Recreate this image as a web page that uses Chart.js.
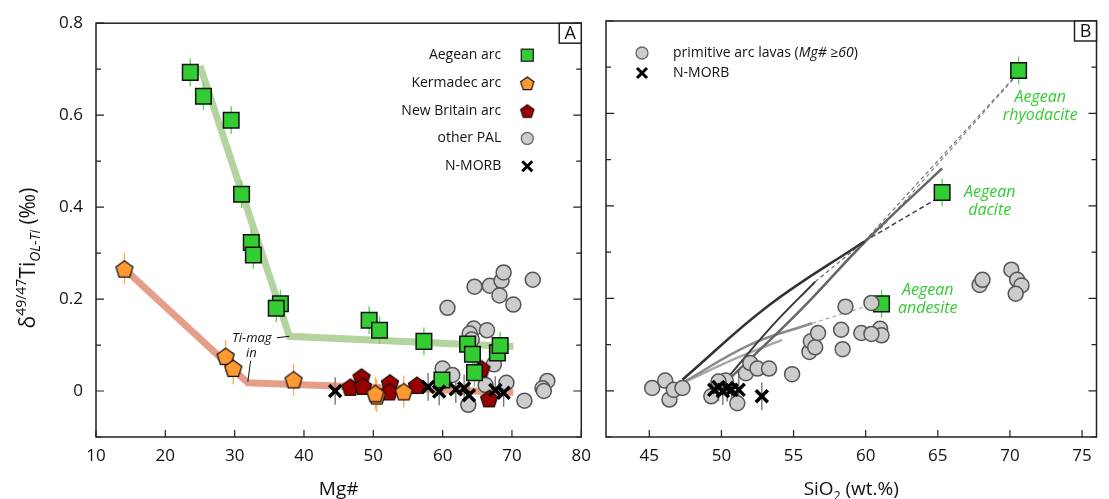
<!DOCTYPE html>
<html>
<head>
<meta charset="utf-8">
<script src="https://cdn.jsdelivr.net/npm/chart.js@4.4.1/dist/chart.umd.min.js"></script>
<style>
    html, body { margin: 0; padding: 0; background: #fff; }
    #wrap { position: relative; width: 1109px; height: 499px; }
    #chartA { position: absolute; left: 0; top: 0; }
    #chartB { position: absolute; left: 590px; top: 0; }
</style>
</head>
<body>
<div id="wrap">
    <canvas id="chartA" width="600" height="499" style="width:600px;height:499px"></canvas>
    <canvas id="chartB" width="519" height="499" style="width:519px;height:499px"></canvas>
</div>
<script>
// ---------- Panel A: Mg# vs d49/47Ti ----------
const aegeanMg = [23.6, 25.5, 29.5, 31.0, 32.4, 32.7, 36.6, 36.0, 49.4, 50.9, 57.3, 63.6, 64.3, 67.9, 68.3, 64.6, 59.9];
const aegeanTiA = [0.693, 0.641, 0.589, 0.428, 0.323, 0.296, 0.190, 0.180, 0.154, 0.132, 0.108, 0.102, 0.080, 0.083, 0.099, 0.040, 0.024];
const kermadecMg = [14.1, 28.7, 29.8, 38.5, 50.5, 50.3, 54.4];
const kermadecTi = [0.266, 0.076, 0.050, 0.025, -0.010, -0.005, -0.001];
const newBritainMg = [46.7, 48.3, 48.5, 52.4, 52.3, 56.3, 65.6, 66.7];
const newBritainTi = [0.009, 0.031, 0.011, 0.018, -0.001, 0.013, 0.049, -0.016];
const palMg = [64.6, 66.8, 68.5, 68.8, 68.2, 73.0, 70.2, 60.7, 64.5, 66.4, 63.9, 64.2, 67.4, 60.0, 61.4, 66.2, 69.2, 63.7, 71.8, 75.1, 74.4, 74.6];
const palTiA = [0.227, 0.229, 0.240, 0.258, 0.208, 0.242, 0.188, 0.181, 0.136, 0.132, 0.125, 0.112, 0.058, 0.049, 0.035, 0.013, 0.018, -0.030, -0.021, 0.022, 0.006, 0.000];
const morbMg = [44.5, 57.9, 59.5, 61.9, 63.1, 63.8, 67.6, 68.8];
const morbTiA = [0.000, 0.009, -0.001, 0.004, 0.006, -0.009, 0.002, -0.004];

// trend paths (Ti-magnetite in)
const aegeanTrendMg = [25.0, 37.9, 70.2];
const aegeanTrendTi = [0.707, 0.119, 0.097];
const kermadecTrendMg = [14.5, 31.9, 70.2];
const kermadecTrendTi = [0.260, 0.018, -0.003];

// ---------- Panel B: SiO2 vs d49/47Ti ----------
const aegeanSi = [61.1, 65.3, 70.6];
const aegeanTiB = [0.188, 0.429, 0.693];
const palSi = [45.2, 46.1, 46.4, 46.7, 47.3, 49.3, 50.3, 49.8, 51.1, 51.7, 52.0, 52.5, 53.3, 54.9, 56.1, 56.2, 56.5, 56.7, 58.3, 58.4, 58.6, 59.7, 61.0, 61.1, 60.4, 60.4, 67.9, 68.1, 70.1, 70.5, 70.8, 70.4];
const palTiB = [0.006, 0.022, -0.019, 0.002, 0.006, -0.012, 0.022, 0.020, -0.027, 0.038, 0.060, 0.048, 0.048, 0.036, 0.084, 0.107, 0.094, 0.125, 0.132, 0.090, 0.182, 0.125, 0.134, 0.120, 0.123, 0.190, 0.229, 0.240, 0.262, 0.240, 0.228, 0.210];
const morbSi = [49.5, 49.8, 50.1, 50.4, 50.7, 51.2, 52.8];
const morbTiB = [0.002, 0.008, -0.001, 0.006, 0.002, 0.002, -0.012];

// model curves and tie lines in panel B
const curve1Si = [47.3, 53.3, 59.9];        const curve1Ti = [0.024, 0.185, 0.323];
const curve2Si = [50.5, 53.5, 56.5];        const curve2Ti = [0.031, 0.140, 0.236];
const curve3Si = [50.7, 55.5, 60.2, 65.3];  const curve3Ti = [0.030, 0.175, 0.330, 0.481];
const curve4Si = [47.3, 52.0, 56.3];        const curve4Ti = [0.017, 0.100, 0.146];
const curve5Si = [47.3, 51.0, 54.2];        const curve5Ti = [0.017, 0.070, 0.110];
const tie1Si = [59.9, 64.8];  const tie1Ti = [0.323, 0.413];
const tie2Si = [59.9, 70.2];  const tie2Ti = [0.323, 0.675];
const tie3Si = [61.0, 70.4];  const tie3Ti = [0.350, 0.680];
const tie4Si = [56.3, 60.4];  const tie4Ti = [0.146, 0.186];
const tie5Si = [56.5, 59.9];  const tie5Ti = [0.236, 0.323];

// axes
const mgTicks = [10, 20, 30, 40, 50, 60, 70, 80];
const siTicks = [45, 50, 55, 60, 65, 70, 75];
const tiTicks = [-0.1, 0, 0.1, 0.2, 0.3, 0.4, 0.5, 0.6, 0.7, 0.8];
const tiTickLabels = ['', '0', '', '0.2', '', '0.4', '', '0.6', '', '0.8'];

const FONT = "'Open Sans', sans-serif";
Chart.defaults.font.family = FONT;
Chart.defaults.color = '#111';

const pts = (xs, ys) => xs.map((v, i) => ({x: v, y: ys[i]}));

function pentagon(fill, R) {
    const s = Math.ceil(2 * R + 4);
    const c = document.createElement('canvas');
    c.width = s; c.height = s;
    const g = c.getContext('2d');
    g.beginPath();
    for (let k = 0; k < 5; k++) {
        const a = -Math.PI / 2 + k * 2 * Math.PI / 5;
        g.lineTo(s / 2 + R * Math.cos(a), s / 2 + 1 + R * Math.sin(a));
    }
    g.closePath();
    g.fillStyle = fill; g.fill();
    g.lineWidth = 1.2; g.strokeStyle = '#111'; g.stroke();
    return c;
}
const pentOrange = pentagon('#ff9933', 9);
const pentRed = pentagon('#990000', 9);

function marker(label, xs, ys, style, extra) {
    return Object.assign({
        label: label,
        data: pts(xs, ys),
        pointStyle: style,
        pointRadius: 8,
        pointBorderWidth: 1.5,
        pointBorderColor: '#111'
    }, extra);
}
function path(xs, ys, color, width, extra) {
    return Object.assign({
        data: pts(xs, ys),
        showLine: true,
        pointRadius: 0,
        borderColor: color,
        borderWidth: width,
        tension: 0,
        order: 20
    }, extra);
}

// vertical error bars, drawn under the markers
const errorBars = {
    id: 'errorBars',
    beforeDatasetsDraw(chart) {
        const {ctx, scales: {x, y}} = chart;
        chart.data.datasets.forEach(ds => {
            if (!ds.err) return;
            ctx.save();
            ctx.strokeStyle = ds.errColor;
            ctx.lineWidth = 1.4;
            ctx.beginPath();
            ds.data.forEach(p => {
                const px = x.getPixelForValue(p.x);
                ctx.moveTo(px, y.getPixelForValue(p.y - ds.err));
                ctx.lineTo(px, y.getPixelForValue(p.y + ds.err));
            });
            ctx.stroke();
            ctx.restore();
        });
    }
};

function drawMark(ctx, kind, x, y, fill) {
    ctx.save();
    ctx.fillStyle = fill;
    ctx.strokeStyle = '#222';
    ctx.lineWidth = 1.3;
    if (kind === 'square') {
        ctx.fillRect(x - 6, y - 6, 12, 12);
        ctx.strokeRect(x - 6, y - 6, 12, 12);
    } else if (kind === 'pent') {
        const img = pentagon(fill, 7);
        ctx.drawImage(img, x - img.width / 2, y - img.height / 2);
    } else if (kind === 'circle') {
        ctx.strokeStyle = '#666';
        ctx.beginPath();
        ctx.arc(x, y, 6, 0, 2 * Math.PI);
        ctx.fill(); ctx.stroke();
    } else {
        ctx.strokeStyle = '#000';
        ctx.lineWidth = 3;
        ctx.beginPath();
        ctx.moveTo(x - 5, y - 5); ctx.lineTo(x + 5, y + 5);
        ctx.moveTo(x + 5, y - 5); ctx.lineTo(x - 5, y + 5);
        ctx.stroke();
    }
    ctx.restore();
}

// frame, inward ticks, panel letter, axis titles, legend, notes
const decor = {
    id: 'decor',
    afterDatasetsDraw(chart, args, o) {
        const {ctx, chartArea: a, scales: {x, y}} = chart;
        ctx.save();
        ctx.strokeStyle = '#222';
        ctx.lineWidth = 1.2;
        ctx.beginPath();
        o.xTicks.forEach(v => {
            const px = x.getPixelForValue(v);
            ctx.moveTo(px, a.bottom); ctx.lineTo(px, a.bottom - 7);
        });
        tiTicks.forEach((v, i) => {
            const py = y.getPixelForValue(v);
            const len = tiTickLabels[i] ? 8 : 5;
            ctx.moveTo(a.left, py); ctx.lineTo(a.left + len, py);
            ctx.moveTo(a.right, py); ctx.lineTo(a.right - len, py);
        });
        ctx.stroke();
        ctx.lineWidth = 1.5;
        ctx.strokeRect(a.left, a.top, a.right - a.left, a.bottom - a.top);

        // panel letter
        ctx.fillStyle = '#fff';
        ctx.fillRect(a.right - 22, a.top, 22, 20);
        ctx.strokeRect(a.right - 22, a.top, 22, 20);
        ctx.fillStyle = '#111';
        ctx.font = '18px ' + FONT;
        ctx.textAlign = 'center';
        ctx.textBaseline = 'middle';
        ctx.fillText(o.letter, a.right - 11, a.top + 10.5);

        // x title
        const cx = (a.left + a.right) / 2;
        ctx.font = '19px ' + FONT;
        ctx.textBaseline = 'alphabetic';
        if (o.xTitleSub) {
            const w1 = ctx.measureText(o.xTitle).width;
            ctx.font = '12px ' + FONT;
            const w2 = ctx.measureText(o.xTitleSub).width;
            ctx.font = '19px ' + FONT;
            const w3 = ctx.measureText(o.xTitleEnd).width;
            let sx = cx - (w1 + w2 + w3) / 2;
            ctx.textAlign = 'left';
            ctx.fillText(o.xTitle, sx, 495);
            ctx.font = '12px ' + FONT;
            ctx.fillText(o.xTitleSub, sx + w1, 500);
            ctx.font = '19px ' + FONT;
            ctx.fillText(o.xTitleEnd, sx + w1 + w2, 495);
        } else {
            ctx.fillText(o.xTitle, cx, 495);
        }

        // notes in data coordinates
        (o.notes || []).forEach(n => {
            ctx.font = n.font + ' ' + FONT;
            ctx.fillStyle = n.color;
            ctx.textAlign = 'center';
            ctx.textBaseline = 'middle';
            const px = x.getPixelForValue(n.x), py = y.getPixelForValue(n.y);
            n.lines.forEach((t, k) => ctx.fillText(t, px, py + (k - (n.lines.length - 1) / 2) * n.gap));
        });
        (o.leaders || []).forEach(l => {
            ctx.strokeStyle = '#111';
            ctx.lineWidth = 1;
            ctx.beginPath();
            ctx.moveTo(x.getPixelForValue(l[0]), y.getPixelForValue(l[1]));
            ctx.lineTo(x.getPixelForValue(l[2]), y.getPixelForValue(l[3]));
            ctx.stroke();
        });
        if (o.legend) o.legend(ctx, a);
        ctx.restore();
    }
};

const baseScales = (xMin, xMax, xTicks, xWidthY, showYLabels) => ({
    x: {
        type: 'linear', min: xMin, max: xMax,
        afterBuildTicks: s => { s.ticks = xTicks.map(v => ({value: v})); },
        afterFit: s => { s.height = 62; },
        border: {display: false},
        grid: {display: false, drawTicks: false},
        ticks: {font: {size: 17}, padding: 9, autoSkip: false, maxRotation: 0, color: '#111'}
    },
    y: {
        type: 'linear', min: -0.1, max: 0.8,
        afterBuildTicks: s => { s.ticks = tiTicks.map(v => ({value: v})); },
        afterFit: s => { s.width = xWidthY; },
        border: {display: false},
        grid: {display: false, drawTicks: false},
        ticks: {display: showYLabels, font: {size: 17}, padding: 13, autoSkip: false, color: '#111',
                callback: (v, i) => tiTickLabels[i]}
    }
});

// y-axis title of panel A
const yTitle = {
    id: 'yTitle',
    afterDraw(chart) {
        const ctx = chart.ctx;
        const parts = [
            {t: 'δ', f: '21px', dy: 0},
            {t: '49/47', f: '14px', dy: -9},
            {t: 'Ti', f: '21px', dy: 0},
            {t: 'OL-Ti', f: 'italic 14px', dy: 5},
            {t: ' (‰)', f: '21px', dy: 0}
        ];
        ctx.save();
        ctx.fillStyle = '#111';
        ctx.translate(35, 258);
        ctx.rotate(-Math.PI / 2);
        let total = 0;
        parts.forEach(p => { ctx.font = p.f + ' ' + FONT; p.w = ctx.measureText(p.t).width; total += p.w; });
        let sx = -total / 2;
        ctx.textAlign = 'left';
        ctx.textBaseline = 'alphabetic';
        parts.forEach(p => { ctx.font = p.f + ' ' + FONT; ctx.fillText(p.t, sx, p.dy); sx += p.w; });
        ctx.restore();
    }
};

const legendA = [
    {label: 'Aegean arc', kind: 'square', fill: '#33cc33'},
    {label: 'Kermadec arc', kind: 'pent', fill: '#ff9933'},
    {label: 'New Britain arc', kind: 'pent', fill: '#990000'},
    {label: 'other PAL', kind: 'circle', fill: '#cccccc'},
    {label: 'N-MORB', kind: 'cross', fill: '#000'}
];

new Chart(document.getElementById('chartA'), {
    type: 'scatter',
    data: {
        datasets: [
            marker('N-MORB', morbMg, morbTiA, 'crossRot',
                {pointRadius: 8.5, pointBorderWidth: 3.5, pointBorderColor: '#000', order: 0, err: 0.03, errColor: '#777'}),
            marker('Aegean arc', aegeanMg, aegeanTiA, 'rect',
                {pointRadius: 11, pointBackgroundColor: '#33cc33', order: 1, err: 0.03, errColor: '#5fd35f'}),
            marker('Kermadec arc', kermadecMg, kermadecTi, pentOrange,
                {order: 2, err: 0.035, errColor: '#ffb060'}),
            marker('New Britain arc', newBritainMg, newBritainTi, pentRed, {order: 3}),
            marker('other PAL', palMg, palTiA, 'circle',
                {pointRadius: 7.5, pointBackgroundColor: '#cccccc', pointBorderColor: '#555', order: 4, err: 0.012, errColor: '#999'}),
            path(aegeanTrendMg, aegeanTrendTi, 'rgba(150,196,120,0.72)', 7),
            path(kermadecTrendMg, kermadecTrendTi, 'rgba(222,120,92,0.72)', 7)
        ]
    },
    options: {
        responsive: false,
        animation: false,
        events: [],
        layout: {padding: {top: 21, right: 13, left: 0, bottom: 0}},
        scales: baseScales(10, 80, mgTicks, 96, true),
        plugins: {
            legend: {display: false},
            tooltip: {enabled: false},
            decor: {
                xTicks: mgTicks,
                letter: 'A',
                xTitle: 'Mg#',
                notes: [
                    {x: 32.5, y: 0.115, lines: ['Ti-mag'], font: 'italic 13px', color: '#111', gap: 0},
                    {x: 32.4, y: 0.083, lines: ['in'], font: 'italic 13px', color: '#111', gap: 0}
                ],
                leaders: [[36.1, 0.116, 37.9, 0.119], [32.3, 0.066, 31.9, 0.020]],
                legend: (ctx, a) => {
                    ctx.font = '14px ' + FONT;
                    ctx.fillStyle = '#111';
                    ctx.textAlign = 'right';
                    ctx.textBaseline = 'middle';
                    legendA.forEach((it, i) => {
                        const yy = a.top + 32 + i * 27.75;
                        ctx.fillText(it.label, a.right - 80, yy);
                        drawMark(ctx, it.kind, a.right - 54, yy, it.fill);
                    });
                }
            }
        }
    },
    plugins: [errorBars, decor, yTitle]
});

new Chart(document.getElementById('chartB'), {
    type: 'scatter',
    data: {
        datasets: [
            marker('N-MORB', morbSi, morbTiB, 'crossRot',
                {pointRadius: 8.5, pointBorderWidth: 3.5, pointBorderColor: '#000', order: 0, err: 0.03, errColor: '#777'}),
            marker('primitive arc lavas', palSi, palTiB, 'circle',
                {pointRadius: 7.5, pointBackgroundColor: '#cccccc', pointBorderColor: '#555', order: 1, err: 0.012, errColor: '#999'}),
            marker('Aegean arc', aegeanSi, aegeanTiB, 'rect',
                {pointRadius: 11, pointBackgroundColor: '#33cc33', order: 2, err: 0.03, errColor: '#5fd35f'}),
            path(curve1Si, curve1Ti, '#333', 2.5, {tension: 0.4}),
            path(curve2Si, curve2Ti, '#3a3a3a', 2, {tension: 0.4}),
            path(curve3Si, curve3Ti, '#666', 2.5, {tension: 0.4}),
            path(curve4Si, curve4Ti, '#8a8a8a', 2.5, {tension: 0.4}),
            path(curve5Si, curve5Ti, '#a8a8a8', 2.5, {tension: 0.4}),
            path(tie1Si, tie1Ti, '#444', 1.5, {borderDash: [5, 3]}),
            path(tie2Si, tie2Ti, '#777', 1.2, {borderDash: [4, 3]}),
            path(tie3Si, tie3Ti, '#888', 1.2, {borderDash: [4, 3]}),
            path(tie4Si, tie4Ti, '#aaa', 1.2, {borderDash: [4, 3]}),
            path(tie5Si, tie5Ti, '#666', 1.2, {borderDash: [4, 3]})
        ]
    },
    options: {
        responsive: false,
        animation: false,
        events: [],
        layout: {padding: {top: 21, right: 11, left: 0, bottom: 0}},
        scales: baseScales(42, 76, siTicks, 16, false),
        plugins: {
            legend: {display: false},
            tooltip: {enabled: false},
            decor: {
                xTicks: siTicks,
                letter: 'B',
                xTitle: 'SiO',
                xTitleSub: '2',
                xTitleEnd: ' (wt.%)',
                notes: [
                    {x: 72.1, y: 0.615, lines: ['Aegean', 'rhyodacite'], font: 'italic 16px', color: '#33cc33', gap: 18},
                    {x: 68.6, y: 0.409, lines: ['Aegean', 'dacite'], font: 'italic 16px', color: '#33cc33', gap: 18},
                    {x: 64.3, y: 0.198, lines: ['Aegean', 'andesite'], font: 'italic 16px', color: '#33cc33', gap: 18}
                ],
                legend: (ctx, a) => {
                    ctx.fillStyle = '#111';
                    ctx.textAlign = 'left';
                    ctx.textBaseline = 'middle';
                    const lx = a.left + 36, tx = a.left + 67;
                    drawMark(ctx, 'circle', lx, a.top + 32, '#cccccc');
                    drawMark(ctx, 'cross', lx, a.top + 52, '#000');
                    ctx.font = '14px ' + FONT;
                    const t1 = 'primitive arc lavas (';
                    ctx.fillText(t1, tx, a.top + 32);
                    let w = ctx.measureText(t1).width;
                    ctx.font = 'italic 14px ' + FONT;
                    ctx.fillText('Mg# ≥60', tx + w, a.top + 32);
                    w += ctx.measureText('Mg# ≥60').width;
                    ctx.font = '14px ' + FONT;
                    ctx.fillText(')', tx + w, a.top + 32);
                    ctx.fillText('N-MORB', tx, a.top + 52);
                }
            }
        }
    },
    plugins: [errorBars, decor]
});
</script>
</body>
</html>
